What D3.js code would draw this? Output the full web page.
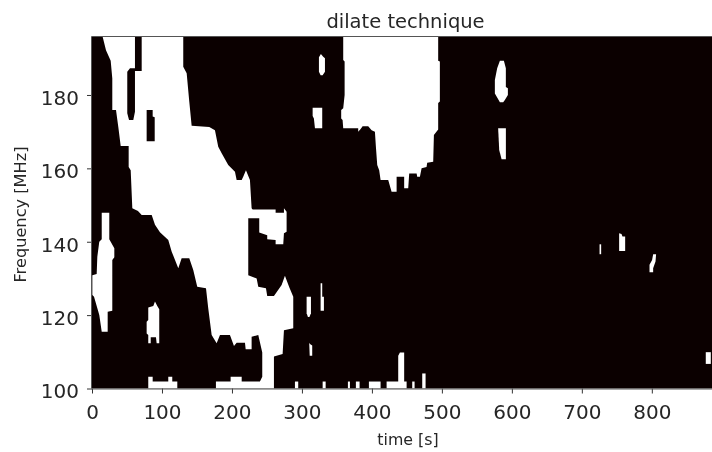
<!DOCTYPE html>
<html><head><meta charset="utf-8">
<script src="https://cdn.jsdelivr.net/npm/d3@7"></script>
<style>html,body{margin:0;padding:0;background:#fff}svg{display:block;filter:blur(.45px)}text{font-family:"DejaVu Sans",sans-serif}</style>
</head><body><svg id="c" width="712" height="452"></svg>
<script>
const xTicks=[0,100,200,300,400,500,600,700,800];
const yTicks=[100,120,140,160,180];
const xDomain=[0,886];
const yDomain=[100,195.8];
const titleText="dilate technique", xLabel="time [s]", yLabel="Frequency [MHz]";
// Regions above threshold: [time s, frequency MHz]
const mainBurst=[[15.3,195.8],[20,192.2],[26.7,189.3],[29,184.5],[29,175.9],[34.3,175.9],[37.6,171.3],[41,166.1],[52.4,166.1],[52.4,160.4],[55.3,159.5],[57.6,149.1],[65.7,148.4],[71,147.3],[85.3,147.3],[90,144.6],[97.1,142.6],[109,140.5],[113.9,137.3],[123.3,132.8],[128.1,135.5],[139,135.5],[144.7,132.3],[150.4,127.7],[162.9,127.3],[166.1,121.9],[171,114.6],[178.1,112.3],[182.9,114.6],[197.1,114.6],[202.9,111.6],[206.7,112.5],[218.6,112.5],[219.6,110.7],[228.1,110.7],[228.1,114.1],[237.6,114.6],[243.3,109.8],[243.3,103.2],[240,101.9],[213.9,101.9],[213.9,103.2],[198.1,103.2],[198.1,101.9],[177.1,101.9],[177.1,100],[260,100],[260,108.7],[272.4,109.4],[274.3,115.9],[287.6,116.4],[287.6,125],[281.9,127.6],[275.7,130.7],[271,128.2],[260,125.2],[250.4,125.2],[248.6,127.3],[237.6,127.7],[235.3,130],[223.3,130.9],[223.3,146.4],[239,146.4],[239,142.5],[250.4,141.8],[250.4,140.7],[262.4,140.5],[262.4,139.3],[273.3,139.3],[274.3,142.3],[278.1,142.7],[278.1,148.2],[274.3,149.1],[274.3,147.9],[262.4,147.9],[262.4,148.8],[229.6,148.8],[228.1,149.1],[225.7,156.8],[220,159.5],[216.1,157.7],[213.9,156.8],[206.7,156.8],[204.3,159.1],[194.7,160.9],[185.3,164.1],[180.4,165.9],[175.7,170.4],[167.6,171.3],[142.4,171.6],[139,178.2],[135.3,185.9],[130.4,187.7],[130.4,195.8]];
const leftBurst=[[13.9,147.9],[24.7,147.9],[24.7,140.7],[31.9,138.2],[31.9,135.8],[29,135],[29,121.2],[22.4,120.9],[22.4,115.5],[13.9,115.5],[10.4,120],[2.9,125],[0.5,125.5],[0.5,130.9],[6.7,131.2],[7.6,135.9],[10.4,140],[13.9,140.7]];
const lowBurst=[[90,123.7],[93.3,122.5],[96.1,121.6],[96.1,112.3],[92.4,112.3],[91.4,114],[83.9,114],[83.9,112.3],[80.4,112.3],[80.4,114.6],[78.1,115],[78.1,118.2],[80.4,118.7],[80.4,122.1],[87.6,122.5]];
const floorA=[[80.4,100],[80.4,103.2],[86.7,103.2],[86.7,101.9],[109,101.9],[109,103.2],[114.7,103.2],[114.7,101.9],[121.9,101.9],[121.9,100]];
const floorB=[[290,100],[290,101.9],[294.7,101.9],[294.7,100]];
const floorC=[[329.6,100],[329.6,101.9],[333.9,101.9],[333.9,100]];
const floorD=[[365.7,100],[365.7,101.9],[368.6,101.9],[368.6,100]];
const floorE=[[377.1,100],[377.1,101.9],[382.4,101.9],[382.4,100]];
const floorF=[[395.7,100],[395.7,101.9],[412.4,101.9],[412.4,100]];
const floorG=[[421,100],[421,101.9],[437.6,101.9],[437.6,108.9],[440,109.8],[446.1,109.8],[446.1,101.9],[449.6,101.9],[449.6,100]];
const floorH=[[457.6,100],[457.6,101.9],[461,101.9],[461,100]];
const floorI=[[471.9,100],[471.9,104.1],[476.7,104.1],[476.7,100]];
const specA=[[306.7,125],[312.9,125],[312.9,120.5],[310.7,119.5],[308.6,119.5],[306.7,120.5]];
const specB=[[310.4,112.5],[311.5,112.1],[314.7,111.7],[314.7,108.9],[311.1,108.9]];
const specC=[[326.7,128.7],[329,128.7],[329,125],[331.4,125],[331.4,121.2],[326.7,121.2]];
const centreBurst=[[359,195.8],[494.7,195.8],[494.7,189.3],[497.1,189.1],[497.1,178.2],[494.7,177.8],[494.7,170.6],[488.6,169.1],[487.6,161.8],[479,161.5],[478.1,160.4],[471,160],[468.6,157.7],[464.7,157.7],[463.9,158.6],[453.3,158.6],[451.9,154.6],[446.1,154.6],[446.1,157.7],[435.3,157.7],[435.3,153.6],[428.1,153.6],[423.3,156.8],[412.4,156.8],[410.4,159.5],[407.6,160.9],[405.7,165.9],[404.3,170],[399.6,170.4],[394.7,171.5],[386.7,171.5],[383.9,170.7],[380.4,170],[380.4,170.9],[359,170.9],[358.1,173.2],[356.1,173.6],[356.1,175.9],[359,176.4],[361,180],[361,189.1],[359,189.5]];
const specD=[[327.1,191.2],[330.4,190.4],[332.9,190],[332.9,186.3],[329.6,185.4],[326.7,185.4],[324.3,186.3],[324.3,190.3]];
const specE=[[315.3,176.5],[329,176.5],[329,170.9],[318.6,170.9],[317.1,173.6],[315.3,174.3]];
const specF=[[582.9,189.3],[588.6,189.3],[591.4,187.3],[591.4,182.2],[594.3,181.8],[594.3,180],[590,178.6],[587.6,178],[582.9,178],[575.7,180.4],[575.7,184.1],[579,187.3]];
const specG=[[580.4,170.9],[591.4,170.9],[591.4,162.5],[585.3,162.5],[581.9,165]];
const specH=[[725.3,139.3],[727.6,139.3],[727.6,136.6],[725.3,136.6]];
const specI=[[753.3,142.3],[756.7,142.1],[758.1,141.4],[761.9,141.4],[761.9,137.5],[753.3,137.5]];
const specJ=[[801.9,136.6],[806.1,136.6],[805.3,134.6],[801.9,132.8],[801.9,131.7],[796.7,131.7],[796.7,133.7],[800.4,135]];
const specK=[[877.1,109.9],[884.3,109.9],[884.3,106.7],[877.1,106.7]];
// Regions below threshold inside the main burst
const gapA=[[61.4,195.8],[71,195.8],[71,186.5],[61.4,186.5],[61.4,175.4],[59,173.2],[52.9,173.2],[50.4,175],[50.4,186.3],[54.3,187.3],[61.4,187.3]];
const gapB=[[78.1,175.9],[86.7,175.9],[86.7,174.1],[89.6,173.9],[89.6,167.4],[78.1,167.4]];

const whiteRegions=[mainBurst,leftBurst,lowBurst,floorA,floorB,floorC,floorD,floorE,floorF,floorG,floorH,floorI,specA,specB,specC,centreBurst,specD,specE,specF,specG,specH,specI,specJ,specK];
const blackRegions=[gapA,gapB];

const left=92,right=712,top0=37,bottom=388.5;
const svg=d3.select("#c");
const x=d3.scaleLinear().domain(xDomain).range([left,right]);
const y=d3.scaleLinear().domain(yDomain).range([bottom,top0]);
const line=d3.line().x(d=>x(d[0])).y(d=>y(d[1])).curve(d3.curveLinearClosed);
const bg="#0b0000";
svg.append("rect").attr("x",left).attr("y",top0).attr("width",right-left).attr("height",bottom-top0).attr("fill",bg);
svg.append("g").selectAll("path").data(whiteRegions).join("path").attr("d",line).attr("fill","#fff");
svg.append("g").selectAll("path").data(blackRegions).join("path").attr("d",line).attr("fill",bg);
const ax=svg.append("g").attr("transform",`translate(0,${bottom})`).call(d3.axisBottom(x).tickValues(xTicks).tickSize(5).tickPadding(11.5).tickFormat(d3.format("d")));
const ay=svg.append("g").attr("transform",`translate(${left},0)`).call(d3.axisLeft(y).tickValues(yTicks).tickSize(5).tickPadding(8).tickFormat(d3.format("d")));
[ax,ay].forEach(g=>{g.selectAll("text").attr("font-size",20).attr("fill","#262626").style("font-family",'"DejaVu Sans",sans-serif');
 g.selectAll("line").attr("stroke","#333");g.select(".domain").remove();});
ay.selectAll("text").attr("dy","0.47em");
svg.append("path").attr("d",`M${left-.5},${bottom}V${top0-.5}H${right}`).attr("fill","none").attr("stroke","#555");
svg.append("path").attr("d",`M${left-.5},${bottom+.5}H${right}`).attr("fill","none").attr("stroke","#555");
svg.append("text").attr("x",405.5).attr("y",28).attr("text-anchor","middle").attr("font-size",19.5).attr("fill","#262626").text(titleText);
svg.append("text").attr("x",408).attr("y",445).attr("text-anchor","middle").attr("font-size",15.8).attr("fill","#262626").text(xLabel);
svg.append("text").attr("transform","translate(25.5,214.5) rotate(-90)").attr("text-anchor","middle").attr("font-size",16.2).attr("fill","#262626").text(yLabel);
</script></body></html>
